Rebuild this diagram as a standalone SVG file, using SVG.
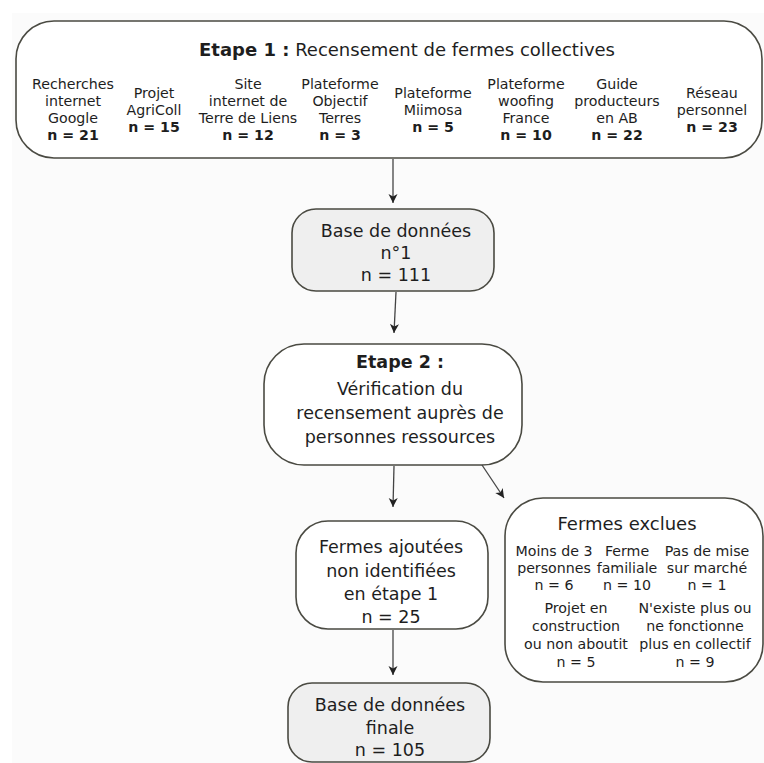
<svg xmlns="http://www.w3.org/2000/svg" width="764" height="763" viewBox="0 0 764 763">
<style>
.box{fill:#ffffff;stroke:#4a4a42;stroke-width:1.6}
.grey{fill:#efefef}
text{font-family:"DejaVu Sans","Noto Sans",sans-serif;fill:#1e1e1e;text-anchor:middle}
.s{font-size:14.2px}
.m{font-size:17.5px}
.b{font-weight:bold}
.con{stroke:#444444;stroke-width:1.3;fill:none;marker-end:url(#ah)}
</style>
<defs>
<marker id="ah" markerUnits="userSpaceOnUse" markerWidth="12" markerHeight="12" refX="0" refY="0" viewBox="-10 -6 12 12" orient="auto">
<path d="M0,0 L-9,-4.5 L-6.5,0 L-9,4.5 Z" fill="#222222"/>
</marker>
</defs>
<rect x="0" y="0" width="764" height="763" fill="#ffffff"/>
<rect x="12" y="13" width="752" height="750" fill="#fbfbfb"/>

<g id="etape1">
<rect class="box" x="16" y="21" width="746" height="137" rx="38" ry="38"/>
<text x="407" y="56" style="font-size:18px"><tspan class="b">Etape 1 :</tspan> Recensement de fermes collectives</text>
<text class="s" x="73"><tspan x="73" y="89">Recherches</tspan><tspan x="73" y="106">internet</tspan><tspan x="73" y="123">Google</tspan><tspan x="73" y="140" class="b">n = 21</tspan></text>
<text class="s" x="154"><tspan x="154" y="98">Projet</tspan><tspan x="154" y="115">AgriColl</tspan><tspan x="154" y="132" class="b">n = 15</tspan></text>
<text class="s" x="248"><tspan x="248" y="89">Site</tspan><tspan x="248" y="106">internet de</tspan><tspan x="248" y="123">Terre de Liens</tspan><tspan x="248" y="140" class="b">n = 12</tspan></text>
<text class="s" x="340"><tspan x="340" y="89">Plateforme</tspan><tspan x="340" y="106">Objectif</tspan><tspan x="340" y="123">Terres</tspan><tspan x="340" y="140" class="b">n = 3</tspan></text>
<text class="s" x="433"><tspan x="433" y="98">Plateforme</tspan><tspan x="433" y="115">Miimosa</tspan><tspan x="433" y="132" class="b">n = 5</tspan></text>
<text class="s" x="526"><tspan x="526" y="89">Plateforme</tspan><tspan x="526" y="106">woofing</tspan><tspan x="526" y="123">France</tspan><tspan x="526" y="140" class="b">n = 10</tspan></text>
<text class="s" x="617"><tspan x="617" y="89">Guide</tspan><tspan x="617" y="106">producteurs</tspan><tspan x="617" y="123">en AB</tspan><tspan x="617" y="140" class="b">n = 22</tspan></text>
<text class="s" x="712"><tspan x="712" y="98">Réseau</tspan><tspan x="712" y="115">personnel</tspan><tspan x="712" y="132" class="b">n = 23</tspan></text>
</g>

<g id="bdd1">
<rect class="box grey" x="292" y="209" width="202" height="82" rx="24" ry="24"/>
<text class="m"><tspan x="396" y="237">Base de données</tspan><tspan x="396" y="259">n°1</tspan><tspan x="396" y="281">n = 111</tspan></text>
</g>

<g id="etape2">
<rect class="box" x="264" y="344" width="258" height="121" rx="40" ry="40"/>
<text class="m"><tspan x="400" y="368" class="b">Etape 2 :</tspan><tspan x="400" y="395">Vérification du</tspan><tspan x="400" y="419">recensement auprès de</tspan><tspan x="400" y="443">personnes ressources</tspan></text>
</g>

<g id="ajoutees">
<rect class="box" x="296" y="521" width="192" height="108" rx="32" ry="32"/>
<text class="m"><tspan x="391" y="553">Fermes ajoutées</tspan><tspan x="391" y="577">non identifiées</tspan><tspan x="391" y="600">en étape 1</tspan><tspan x="391" y="623">n = 25</tspan></text>
</g>

<g id="bddfinale">
<rect class="box grey" x="288" y="683" width="202" height="79" rx="24" ry="24"/>
<text class="m"><tspan x="390" y="711">Base de données</tspan><tspan x="390" y="734">finale</tspan><tspan x="390" y="756">n = 105</tspan></text>
</g>

<g id="exclues">
<rect class="box" x="505" y="498" width="258" height="184" rx="38" ry="38"/>
<text x="627" y="530" style="font-size:18px">Fermes exclues</text>
<text class="s"><tspan x="554" y="556">Moins de 3</tspan><tspan x="554" y="573">personnes</tspan><tspan x="554" y="590">n = 6</tspan></text>
<text class="s"><tspan x="627" y="556">Ferme</tspan><tspan x="627" y="573">familiale</tspan><tspan x="627" y="590">n = 10</tspan></text>
<text class="s"><tspan x="707" y="556">Pas de mise</tspan><tspan x="707" y="573">sur marché</tspan><tspan x="707" y="590">n = 1</tspan></text>
<text class="s"><tspan x="576" y="613">Projet en</tspan><tspan x="576" y="631">construction</tspan><tspan x="576" y="649">ou non aboutit</tspan><tspan x="576" y="667">n = 5</tspan></text>
<text class="s"><tspan x="695" y="613">N'existe plus ou</tspan><tspan x="695" y="631">ne fonctionne</tspan><tspan x="695" y="649">plus en collectif</tspan><tspan x="695" y="667">n = 9</tspan></text>
</g>

<g id="connectors">
<path class="con" d="M393,159 L393,203"/>
<path class="con" d="M396,292 L394,333"/>
<path class="con" d="M394,466 L393,507"/>
<path class="con" d="M482,465 L504,498"/>
<path class="con" d="M393,630 L393,675"/>
</g>
</svg>
